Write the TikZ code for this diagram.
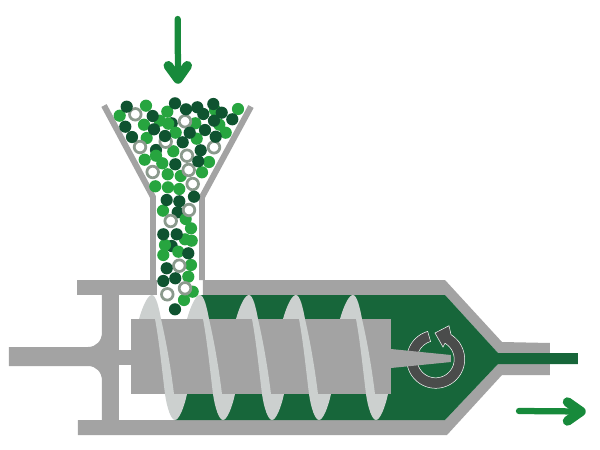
\documentclass[tikz,border=0pt]{standalone}
\definecolor{shellgray}{HTML}{A3A3A3}
\definecolor{fingray}{HTML}{CCD0CF}
\definecolor{meltgreen}{HTML}{17663A}
\definecolor{flowgreen}{HTML}{178A3B}
\definecolor{darkpellet}{HTML}{0F5330}
\definecolor{lightpellet}{HTML}{27A53F}
\definecolor{ringpellet}{HTML}{8B9A8D}
\definecolor{turngray}{HTML}{4A4C4B}
\tikzset{
  shell/.style = {fill=shellgray},
  fin/.style = {fill=fingray},
  melt/.style = {fill=meltgreen},
  hopperwall/.style = {draw=shellgray, line width=1.2mm},
  flowshaft/.style = {draw=flowgreen, line width=1.25mm, line cap=round},
  flowhead/.style = {draw=flowgreen, line width=1.9mm, line cap=round, line join=round},
  darkball/.style = {fill=darkpellet},
  lightball/.style = {fill=lightpellet},
  ringball/.style = {draw=ringpellet, fill=white, line width=0.55mm}
}

\begin{document}
\begin{tikzpicture}[x=0.02cm, y=-0.02cm]
\useasboundingbox (0,0) rectangle (600,450);
% barrel and plunger
\fill [shell] (77,280) rectangle (157,295);
\fill [shell] (203,280) -- (445,280) -- (502,342) -- (550,343) -- (550,375) -- (502,375)
    -- (447,435) -- (78,435) -- (78,420) -- (445,420) -- (498,364) -- (498,353)
    -- (445,295) -- (203,295) -- cycle;
\fill [shell] (102,295) -- (119,295) -- (119,420) -- (102,420) -- (102,381)
    .. controls (102,372) and (96,366) .. (88,366) -- (9,366) -- (9,347) -- (88,347)
    .. controls (96,347) and (102,341) .. (102,332) -- cycle;
\fill [shell] (119,350) rectangle (131,365);
\fill [melt] (200,295) -- (445,295) -- (498,353) -- (578,353) -- (578,364) -- (498,364)
    -- (445,420) -- (175,420) -- cycle;
% screw
\foreach \dx in {0,48,97,144,201} {
  \begin{scope}[shift={(\dx,0)}]
    \fill [fin] (139,319) .. controls (143,305) and (148,295) .. (152,295)
        .. controls (156,295) and (159,308) .. (161,319) -- cycle;
    \fill [fin] (165,394) .. controls (167,408) and (171,420) .. (175,420)
        .. controls (179,420) and (184,408) .. (187,394) -- cycle;
  \end{scope}
}
\fill [shell] (131,319) rectangle (391,394);
\foreach \dx in {0,48,97,144,201} {
  \fill [fin, shift={(\dx,0)}] (155,319) -- (161,319) .. controls (167,345) and (171,370) .. (174,394)
      -- (165,394) .. controls (162,370) and (159,340) .. (155,319) -- cycle;
}
% hopper
\draw [hopperwall] (104,105.5) -- (153,197) -- (153,280);
\draw [hopperwall] (251,106.5) -- (202,197) -- (202,280);
% rotation mark
\filldraw [fill=turngray, draw=white, line width=0.1mm]
    plot [domain=254:-58, samples=60] ({435.7+29*cos(\x)},{359.3+29*sin(\x)})
    -- (449,325.7) -- (435,333) -- (443,347)
    -- plot [domain=-60:254, samples=60] ({435.7+18.5*cos(\x)},{359.3+18.5*sin(\x)}) -- cycle;
\fill [shell] (391,349) -- (451,355) -- (451,362) -- (391,368) -- cycle;
% pellets
\foreach \px/\py in {171.7/123.3, 156/150, 171.7/246, 177.7/212.3} {
  \fill [darkball] (\px,\py) circle (6.1);
}
\foreach \px/\py in {146/105.7, 119.7/115.7, 167.3/111.7, 238/109, 215/110, 144/124.7,
    159.7/120.7, 168.3/123.7, 195.3/123.3, 219.3/124.7, 225.7/132.7, 175.7/132.7,
    146.7/138, 196.7/138.7, 173.3/151.3, 156/155.7, 144.7/159.7, 162.3/163.3, 209/162,
    202/172.3, 167.7/174.3, 180.7/176, 155.3/186.3, 168/187.3, 179.3/189, 163/210.7,
    185.7/219, 191/228.3, 185/239.3, 191.7/240.7, 165/245, 178.3/251.7, 163.3/255,
    191/265, 188.3/276.7, 192.7/291.7, 184/300} {
  \fill [lightball] (\px,\py) circle (6.1);
}
\foreach \px/\py in {135.3/114.3, 185/121.3, 165.7/141.7, 140/147, 214/147.3, 187/155.7,
    188.7/170, 152.7/172, 192.7/184, 189/210, 170.7/221, 179.3/265.7, 185/288.3, 167.3/294.3} {
  \draw [ringball] (\px,\py) circle (5.8);
}
\foreach \px/\py in {126.7/106.7, 175/103.3, 186/109.3, 197.3/107.3, 213.3/104, 203.3/114,
    221.7/112.7, 232.3/119.3, 214/120.7, 152.7/116, 125.3/126.7, 154/129.3, 205/130,
    189.7/132.7, 132/137, 165/136, 215.7/136.7, 182.7/142.3, 200.7/150.3, 198.3/161.3,
    175.3/164.3, 166.7/200, 179.3/201.3, 194/196.7, 163.3/234.3, 176.7/234.3, 188.3/253.3,
    166.7/268.3, 163.3/281, 175.3/278.3, 175/309.3} {
  \fill [darkball] (\px,\py) circle (6.1);
}
% flow arrows
\coordinate (feedtop) at (177.7,19);
\coordinate (feedtip) at (178,79);
\coordinate (outstart) at (519,411);
\coordinate (outtip) at (581,411.5);
\draw [flowshaft] (feedtop) -- (feedtip);
\draw [flowhead] (168.3,65.7) -- (feedtip) -- (187.3,65.7);
\draw [flowshaft] (outstart) -- (outtip);
\draw [flowhead] (567.5,402) -- (outtip) -- (567.5,421);
\end{tikzpicture}
\end{document}
